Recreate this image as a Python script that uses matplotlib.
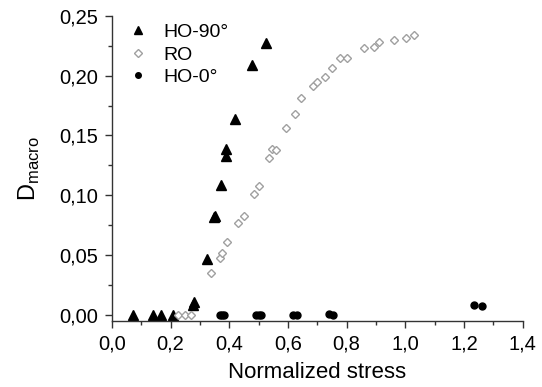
import matplotlib
matplotlib.use("Agg")
import matplotlib.pyplot as plt
from matplotlib.ticker import FuncFormatter, MultipleLocator

plt.rcParams['font.family'] = ['Liberation Sans', 'DejaVu Sans']

ho90_x = [0.071, 0.142, 0.168, 0.210, 0.278, 0.281, 0.326, 0.347, 0.350, 0.372, 0.388, 0.390, 0.419, 0.479, 0.526]
ho90_y = [0.000, 0.000, 0.000, 0.000, 0.008, 0.011, 0.047, 0.082, 0.083, 0.109, 0.133, 0.139, 0.164, 0.209, 0.227]

ro_x = [0.227, 0.250, 0.270, 0.337, 0.369, 0.377, 0.392, 0.429, 0.450, 0.484, 0.501, 0.536, 0.545,
        0.559, 0.592, 0.624, 0.643, 0.687, 0.699, 0.725, 0.751, 0.779, 0.803, 0.858, 0.892, 0.910,
        0.963, 1.002, 1.029]
ro_y = [0.000, 0.000, 0.000, 0.0355, 0.048, 0.052, 0.061, 0.077, 0.083, 0.101, 0.108, 0.131, 0.139,
        0.138, 0.156, 0.168, 0.181, 0.191, 0.195, 0.199, 0.206, 0.215, 0.215, 0.223, 0.224, 0.228,
        0.230, 0.231, 0.234]

ho0_x = [0.370, 0.377, 0.383, 0.492, 0.500, 0.508, 0.619, 0.630, 0.741, 0.755, 1.234, 1.262]
ho0_y = [0.000, 0.000, 0.000, 0.000, 0.000, 0.000, 0.000, 0.000, 0.001, 0.000, 0.0084, 0.0078]

fig = plt.figure(figsize=(5.42, 3.87), dpi=100)
ax = fig.add_axes([0.2063, 0.1705, 0.7581, 0.7889])

ax.plot(ho90_x, ho90_y, linestyle='none', marker='^', color='black', markersize=6.5, label='HO-90°')
ax.plot(ro_x, ro_y, linestyle='none', marker='D', markerfacecolor='white', markeredgecolor='#a0a0a0',
        markersize=4.5, markeredgewidth=1.0, label='RO')
ax.plot(ho0_x, ho0_y, linestyle='none', marker='o', color='black', markersize=5, label='HO-0°')

ax.set_xlim(0, 1.4)
ax.set_ylim(-0.005, 0.25)
ax.xaxis.set_major_locator(MultipleLocator(0.2))
ax.xaxis.set_minor_locator(MultipleLocator(0.1))
ax.yaxis.set_major_locator(MultipleLocator(0.05))
ax.yaxis.set_minor_locator(MultipleLocator(0.025))
ax.xaxis.set_major_formatter(FuncFormatter(lambda v, p: f"{v:.1f}".replace('.', ',')))
ax.yaxis.set_major_formatter(FuncFormatter(lambda v, p: f"{v:.2f}".replace('.', ',')))

for s in ['top', 'right']:
    ax.spines[s].set_visible(False)
for s in ['left', 'bottom']:
    ax.spines[s].set_linewidth(1.0)
    ax.spines[s].set_color('#333333')

ax.tick_params(axis='both', which='major', direction='out', length=5, width=1, labelsize=14.5,
               colors='#333333', labelcolor='black', pad=5)
ax.tick_params(axis='both', which='minor', direction='out', length=3, width=1, colors='#333333')

ax.set_xlabel('Normalized stress', fontsize=16, labelpad=6)
ax.set_ylabel(r'D$_{\mathregular{macro}}$', fontsize=17, labelpad=12)

ax.legend(loc='upper left', frameon=False, fontsize=14, handletextpad=0.5, borderaxespad=0.0,
          labelspacing=0.25, handlelength=1.6, markerscale=0.8, bbox_to_anchor=(0.008, 1.0))

fig.savefig('out.png', dpi=100)
